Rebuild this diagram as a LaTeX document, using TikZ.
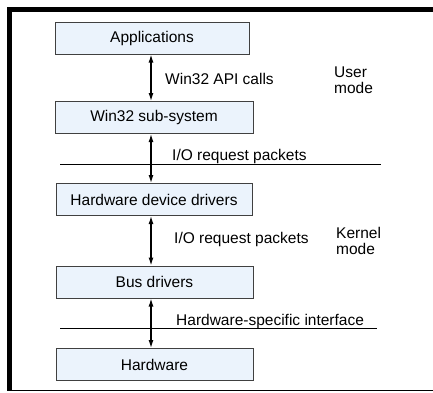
\documentclass[tikz,border=0pt]{standalone}
\usepackage{fontspec}
\setmainfont{Liberation Sans}
\usetikzlibrary{arrows.meta}
\definecolor{boxfill}{HTML}{EBF3FC}
\definecolor{boxline}{HTML}{404040}
\begin{document}
\begin{tikzpicture}[x=1pt,y=-1pt,
  layerbox/.style={draw=boxline,line width=1pt,fill=boxfill,minimum height=32pt,inner sep=0pt,font=\fontsize{15.5}{18}\selectfont},
  lbl/.style={anchor=west,inner sep=0pt,font=\fontsize{15.5}{18}\selectfont},
  modelbl/.style={anchor=west,inner sep=0pt,align=left,font=\fontsize{15.5}{16}\selectfont},
  dbl/.style={{Latex[length=8pt,width=5pt]}-{Latex[length=8pt,width=5pt]},line width=1.2pt},
  sep/.style={line width=1pt}]
\fill[white] (0,0) rectangle (433,392);
\useasboundingbox (0,0) rectangle (433,392);
% frame
\fill[black] (7,7) rectangle (433,12);
\fill[black] (7,7) rectangle (12,391);
\fill[black] (7,389.5) rectangle (433,391);
% boxes
\node[layerbox,minimum width=194pt] (app) at (152,38) {Applications};
\node[layerbox,minimum width=198pt] (win) at (154,117.5) {Win32 sub-system};
\node[layerbox,minimum width=196pt] (hdd) at (154,199.5) {Hardware device drivers};
\node[layerbox,minimum width=197pt] (bus) at (154.5,282) {Bus drivers};
\node[layerbox,minimum width=197pt] (hw) at (154.5,364.5) {Hardware};
% arrows
\draw[dbl] (app.south -| 151,0) -- (win.north -| 151,0);
\draw[dbl] (win.south -| 151,0) -- (hdd.north -| 151,0);
\draw[dbl] (hdd.south -| 151,0) -- (bus.north -| 151,0);
\draw[dbl] (bus.south -| 151,0) -- (hw.north -| 151,0);
% separators
\coordinate (s1l) at (60,164); \coordinate (s1r) at (381,164);
\coordinate (s2l) at (60,328); \coordinate (s2r) at (377,328);
\draw[sep] (s1l) -- (s1r);
\draw[sep] (s2l) -- (s2r);
% labels
\node[lbl] (l1) at (165,79) {Win32 API calls};
\node[lbl] (l2) at (172,156) {I/O request packets};
\node[lbl] (l3) at (174,239) {I/O request packets};
\node[lbl] (l4) at (176,321) {Hardware-specific interface};
\node[modelbl] (um) at (334,80.5) {User\\mode};
\node[modelbl] (km) at (336,241) {Kernel\\mode};
\end{tikzpicture}
\end{document}
